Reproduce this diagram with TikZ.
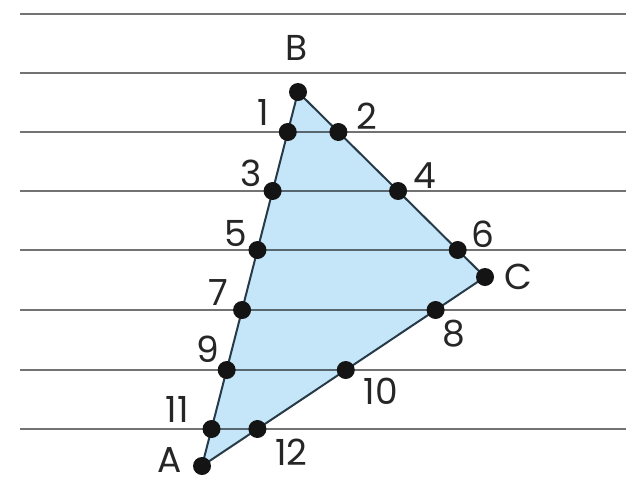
\documentclass[tikz,border=0pt]{standalone}
\usepackage{fontspec}
\setmainfont{Poppins}
\usetikzlibrary{calc,positioning}
\definecolor{triFill}{RGB}{197,230,248}
\definecolor{triEdge}{RGB}{38,58,72}
\tikzset{
  rule/.style={line width=1.3pt,black,opacity=0.55},
  side/.style={line width=1pt,triEdge},
  pt/.style={circle,fill=black!92,minimum size=9pt,inner sep=0pt},
  lab/.style={font=\fontsize{18}{20}\selectfont,text=black!85,inner sep=0pt,
    text height=12.6pt,text depth=0pt},
}

\begin{document}
\begin{tikzpicture}[x=0.5pt,y=-0.5pt]
  \useasboundingbox (0,0) rectangle (626,484);
  \coordinate (A) at (202,466); \coordinate (B) at (298,92); \coordinate (C) at (485,277);
  \foreach \i/\y in {0/14,1/73,2/132,3/191,4/250,5/310,6/370,7/429}{
    \coordinate (L\i) at (20,\y); \coordinate (R\i) at (626,\y);
  }
  \fill[triFill] (A) -- (B) -- (C) -- cycle;
  \foreach \i in {0,...,7} \draw[rule] (L\i) -- (R\i);
  \draw[side] (A) -- (B) -- (C) -- cycle;
  % crossing points, left side then right side
  \node[pt] (p1) at (intersection of A--B and L2--R2) {};
  \node[pt] (p2) at (intersection of B--C and L2--R2) {};
  \node[pt] (p3) at (intersection of A--B and L3--R3) {};
  \node[pt] (p4) at (intersection of B--C and L3--R3) {};
  \node[pt] (p5) at (intersection of A--B and L4--R4) {};
  \node[pt] (p6) at (intersection of B--C and L4--R4) {};
  \node[pt] (p7) at (intersection of A--B and L5--R5) {};
  \node[pt] (p8) at (intersection of C--A and L5--R5) {};
  \node[pt] (p9) at (intersection of A--B and L6--R6) {};
  \node[pt] (p10) at (intersection of C--A and L6--R6) {};
  \node[pt] (p11) at (intersection of A--B and L7--R7) {};
  \node[pt] (p12) at (intersection of C--A and L7--R7) {};
  \node[pt] (pA) at (A) {}; \node[pt] (pB) at (B) {}; \node[pt] (pC) at (C) {};
  % labels
  \node[lab] (tB) at ($(pB)+(-1,-44)$) {B};
  \node[lab] (tC) at ($(pC)+(33,0)$) {C};
  \node[lab] (tA) at ($(pA)+(-32,-6)$) {A};
  \node[lab] (t1) at ($(p1)+(-24,-19)$) {1};
  \node[lab] (t2) at ($(p2)+(28,-15)$) {2};
  \node[lab] (t3) at ($(p3)+(-22,-17)$) {3};
  \node[lab] (t4) at ($(p4)+(27,-15)$) {4};
  \node[lab] (t5) at ($(p5)+(-22,-16)$) {5};
  \node[lab] (t6) at ($(p6)+(25,-15)$) {6};
  \node[lab] (t7) at ($(p7)+(-24,-17)$) {7};
  \node[lab] (t8) at ($(p8)+(18,24)$) {8};
  \node[lab] (t9) at ($(p9)+(-19,-20)$) {9};
  \node[lab] (t10) at ($(p10)+(35,22)$) {10};
  \node[lab] (t11) at ($(p11)+(-34,-19)$) {11};
  \node[lab] (t12) at ($(p12)+(34,24)$) {12};
\end{tikzpicture}
\end{document}
